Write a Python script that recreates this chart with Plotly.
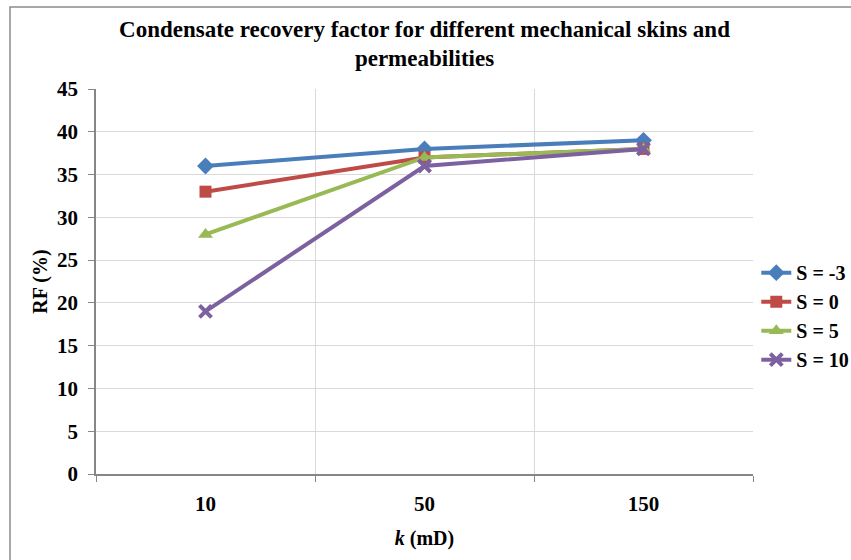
import plotly.graph_objects as go

categories = ["10", "50", "150"]
series_names = ["S = -3", "S = 0", "S = 5", "S = 10"]
rf_s_neg3 = [36, 38, 39]
rf_s_0 = [33, 37, 38]
rf_s_5 = [28, 37, 38]
rf_s_10 = [19, 36, 38]

colors = ["#4A7EBB", "#BE4B48", "#98B954", "#7D60A0"]
symbols = ["diamond", "square", "triangle-up", "x-thin"]
sizes = [13, 12, 13, 12]

FONT = "Liberation Serif"

fig = go.Figure()
for name, vals, c, s, sz in zip(series_names, [rf_s_neg3, rf_s_0, rf_s_5, rf_s_10], colors, symbols, sizes):
    marker = dict(symbol=s, size=sz, color=c)
    if s == "x-thin":
        marker["line"] = dict(color=c, width=4)
    fig.add_trace(go.Scatter(
        x=categories, y=vals, name=name, mode="lines+markers",
        line=dict(color=c, width=4), marker=marker,
    ))

# plot area: x 96..753, y 89..474
L, R, T, B = 96, 851 - 753, 89, 560 - 474
pw, ph = 851 - L - R, 560 - T - B

fig.update_layout(
    width=851, height=560,
    margin=dict(l=L, r=R, t=T, b=B, autoexpand=False),
    paper_bgcolor="white", plot_bgcolor="white",
    font=dict(family=FONT, color="black", size=20),
    title=dict(
        text="Condensate recovery factor for different mechanical skins and<br>permeabilities",
        x=0.5, xanchor="center", xref="paper", y=1 - 36.5 / 560, yanchor="middle",
        font=dict(family=FONT, size=23, weight="bold", color="black"),
    ),
    showlegend=True,
    legend=dict(
        x=1.005, xanchor="left", y=0.41, yanchor="middle",
        font=dict(family=FONT, size=20, weight="bold"),
        bgcolor="rgba(0,0,0,0)", itemwidth=30,
    ),
    xaxis=dict(
        type="category", categoryorder="array", categoryarray=categories,
        tickson="boundaries", ticks="outside", ticklen=6, tickcolor="#868686",
        showgrid=True, gridcolor="#D9D9D9", gridwidth=1,
        showline=True, linecolor="#868686", linewidth=1.5,
        tickfont=dict(family=FONT, size=21, weight="bold"),
        ticklabelstandoff=10, automargin=False,
        title=dict(text="<i>k</i> (mD)", font=dict(family=FONT, size=20, weight="bold"), standoff=16),
        range=[-0.5, 2.5],
    ),
    yaxis=dict(
        range=[0, 45], dtick=5, tick0=0,
        ticks="outside", ticklen=6, tickcolor="#868686",
        showgrid=True, gridcolor="#D9D9D9", gridwidth=1,
        showline=True, linecolor="#868686", linewidth=1.5, zeroline=False,
        tickfont=dict(family=FONT, size=21, weight="bold"),
        ticklabelstandoff=6, automargin=False,
        title=dict(text="RF (%)", font=dict(family=FONT, size=20, weight="bold"), standoff=4),
    ),
)

# outer chart border (Excel chart area frame)
fig.add_shape(
    type="rect", xref="paper", yref="paper",
    x0=(10 - L) / pw, x1=(870 - L) / pw,
    y0=(474 - 580) / ph, y1=(474 - 7) / ph,
    line=dict(color="#8C8C8C", width=1.5), fillcolor="rgba(0,0,0,0)", layer="below",
)

fig.write_html(
    "out.html",
    config={"displayModeBar": False},
    post_script="document.body.style.margin='0';document.body.style.padding='0';",
)
